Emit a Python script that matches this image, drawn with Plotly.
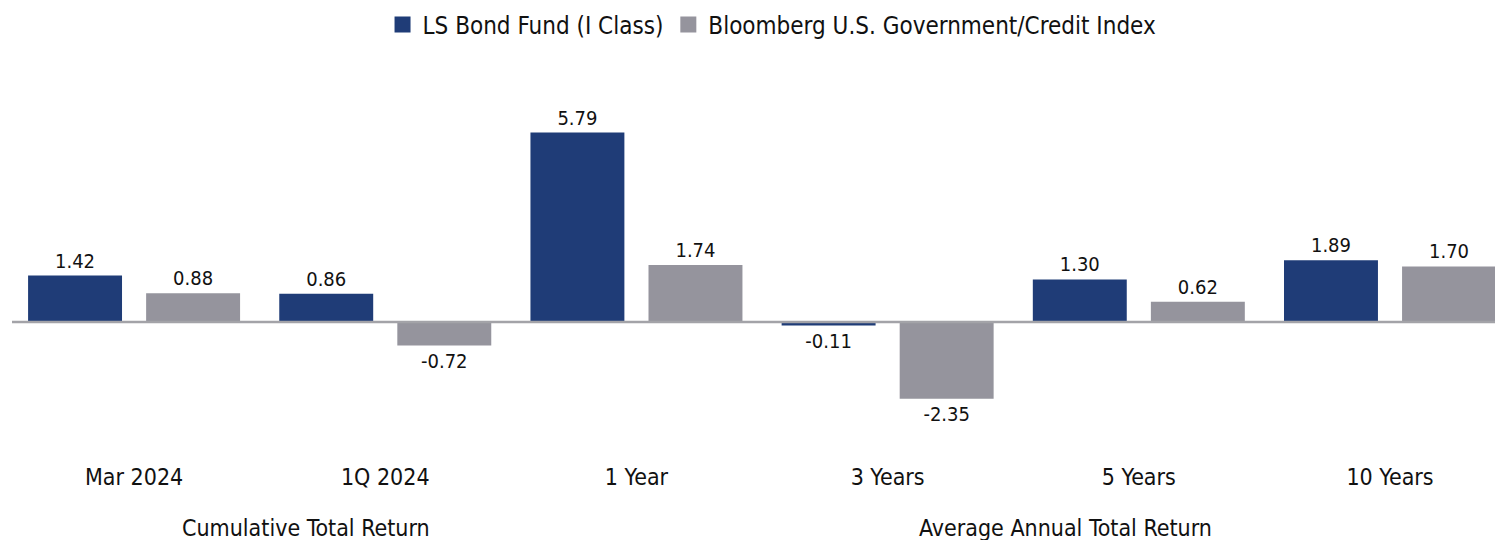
import plotly.graph_objects as go

categories = ["Mar 2024", "1Q 2024", "1 Year", "3 Years", "5 Years", "10 Years"]
fund_values = [1.42, 0.86, 5.79, -0.11, 1.30, 1.89]
index_values = [0.88, -0.72, 1.74, -2.35, 0.62, 1.70]
series_names = ["LS Bond Fund (I Class)", "Bloomberg U.S. Government/Credit Index"]
group_titles = ["Cumulative Total Return", "Average Annual Total Return"]

FONT = "DejaVu Sans Condensed, DejaVu Sans, Liberation Sans Narrow, sans-serif"
BLUE = "#1F3C77"
GRAY = "#95949D"
TXT = "#111111"

x_idx = list(range(len(categories)))

fig = go.Figure()
for name, vals, color, off in [
    (series_names[0], fund_values, BLUE, -0.422),
    (series_names[1], index_values, GRAY, 0.048),
]:
    fig.add_trace(go.Bar(
        x=x_idx, y=vals, name=name, showlegend=False,
        marker=dict(color=color, line=dict(width=0)),
        width=0.374, offset=off,
        text=[f"{v:.2f}" for v in vals], textposition="outside",
        textfont=dict(family=FONT, size=20, color=TXT),
        cliponaxis=False,
    ))
    # legend entry with a larger square swatch
    fig.add_trace(go.Scatter(
        x=[None], y=[None], mode="markers", name=name,
        marker=dict(symbol="square", size=22, color=color),
    ))

fig.add_hline(y=0, line=dict(color="#A3A3A8", width=2.5), layer="above")

for gx, title in zip([0.685, 3.71], group_titles):
    fig.add_annotation(x=gx, y=-0.17, xref="x", yref="paper", text=title,
                       showarrow=False, font=dict(family=FONT, size=23, color=TXT),
                       yanchor="middle")

fig.update_layout(
    width=1495, height=540,
    margin=dict(l=12, r=0, t=60, b=80),
    barmode="overlay",
    plot_bgcolor="white", paper_bgcolor="white",
    font=dict(family=FONT, size=23, color=TXT),
    legend=dict(orientation="h", x=0.5125, xanchor="center", y=1.0875, yanchor="middle",
                font=dict(family=FONT, size=24, color=TXT), itemclick=False,
                itemwidth=30, tracegroupgap=0),
    xaxis=dict(tickmode="array", tickvals=x_idx, ticktext=categories,
               range=[-0.486, 5.418], showgrid=False, zeroline=False, showline=False,
               ticks="", ticklabelstandoff=1, tickfont=dict(family=FONT, size=23, color=TXT)),
    yaxis=dict(range=[-4.22, 8.01], visible=False, showgrid=False, zeroline=False),
)

fig.write_html("out.html", config={"displayModeBar": False},
               post_script="document.body.style.margin='0';document.body.style.overflow='hidden';")
